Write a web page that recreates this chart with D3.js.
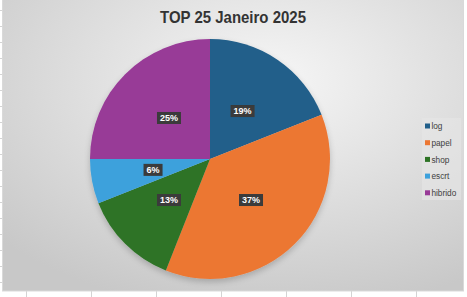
<!DOCTYPE html>
<html>
<head>
<meta charset="utf-8">
<script src="https://cdn.jsdelivr.net/npm/d3@7"></script>
<style>
  body { margin: 0; background: #fff; }
  svg { display: block; }
</style>
</head>
<body>
<div id="chart"></div>
<script>
// data
let categories = ["log", "papel", "shop", "escrt", "hibrido"];
let values = [19, 37, 13, 6, 25];
let colors = ["#215f8a", "#ec7733", "#2d7325", "#3da1dc", "#983a97"];
let title = "TOP 25 Janeiro 2025";

let svgWidth = 467;
let svgHeight = 297;

let svg = d3.select("#chart")
	.append("svg")
	.attr("width", svgWidth)
	.attr("height", svgHeight);

let defs = svg.append("defs");

let grad = defs.append("radialGradient")
	.attr("id", "bg")
	.attr("cx", "0.58").attr("cy", "0.28").attr("r", "0.8");
grad.append("stop").attr("offset", "0%").attr("stop-color", "#f6f6f6");
grad.append("stop").attr("offset", "100%").attr("stop-color", "#c8c8c8");

let shadow = defs.append("filter").attr("id", "shadow")
	.attr("x", "-20%").attr("y", "-20%").attr("width", "140%").attr("height", "140%");
shadow.append("feGaussianBlur").attr("in", "SourceAlpha").attr("stdDeviation", 3).attr("result", "b");
shadow.append("feOffset").attr("dy", 3).attr("result", "o");
shadow.append("feComponentTransfer").append("feFuncA").attr("type", "linear").attr("slope", 0.2);
let merge = shadow.append("feMerge");
merge.append("feMergeNode");
merge.append("feMergeNode").attr("in", "SourceGraphic");

let boxShadow = defs.append("filter").attr("id", "boxsh")
	.attr("x", "-30%").attr("y", "-40%").attr("width", "160%").attr("height", "180%");
boxShadow.append("feGaussianBlur").attr("stdDeviation", 0.6);

// spreadsheet grid peeking around the chart
let grid = svg.append("g").attr("stroke", "#d4d4d4").attr("stroke-width", 1);
d3.range(10, 290, 16).forEach(y => {
	grid.append("line").attr("x1", 0).attr("x2", 3).attr("y1", y + 0.5).attr("y2", y + 0.5);
});
d3.range(26, 467, 65).forEach(x => {
	grid.append("line").attr("x1", x + 0.5).attr("x2", x + 0.5).attr("y1", 291).attr("y2", 297);
});

// chart area
svg.append("rect")
	.attr("x", 2.5).attr("y", -1)
	.attr("width", 461).attr("height", 292)
	.attr("fill", "url(#bg)")
	.attr("stroke", "#d9d9d9");

svg.append("text")
	.attr("x", 233)
	.attr("y", 23)
	.attr("text-anchor", "middle")
	.attr("font-family", "'Liberation Sans', Arial, sans-serif")
	.attr("font-weight", "bold")
	.attr("font-size", "17px")
	.attr("textLength", 146)
	.attr("lengthAdjust", "spacingAndGlyphs")
	.attr("fill", "#333333")
	.text(title);

let radius = 120;
let pieGroup = svg.append("g")
	.attr("transform", "translate(210, 159)");

let pie = d3.pie().sort(null).value(d => d.v);
let arcs = pie(categories.map((c, i) => ({ c: c, v: values[i], color: colors[i] })));

let arc = d3.arc().innerRadius(0).outerRadius(radius);
let labelArc = d3.arc().innerRadius(58).outerRadius(58);

pieGroup.append("g")
	.attr("filter", "url(#shadow)")
	.selectAll("path")
	.data(arcs)
	.enter()
	.append("path")
	.attr("d", arc)
	.attr("fill", d => d.data.color);

let total = d3.sum(values);
let labels = pieGroup.selectAll(".lbl")
	.data(arcs)
	.enter()
	.append("g")
	.attr("class", "lbl")
	.attr("transform", d => `translate(${labelArc.centroid(d)})`);

labels.append("rect")
	.attr("x", d => d.data.v < 10 ? -9.5 : -12)
	.attr("y", -6)
	.attr("width", d => d.data.v < 10 ? 19 : 24)
	.attr("height", 12)
	.attr("fill", "#3a3a3a")
	.attr("filter", "url(#boxsh)");

labels.append("text")
	.attr("text-anchor", "middle")
	.attr("dy", "0.36em")
	.attr("font-family", "'Liberation Sans', Arial, sans-serif")
	.attr("font-weight", "bold")
	.attr("font-size", "9px")
	.attr("fill", "#ffffff")
	.text(d => Math.round(d.data.v / total * 100) + "%");

// legend
let legend = svg.append("g")
	.attr("transform", "translate(422, 118)");

legend.append("rect")
	.attr("x", 0).attr("y", 0)
	.attr("width", 39).attr("height", 82)
	.attr("fill", "#e6e6e6")
	.attr("opacity", 0.6);

let items = legend.selectAll(".item")
	.data(categories)
	.enter()
	.append("g")
	.attr("class", "item")
	.attr("transform", (d, i) => `translate(3, ${8 + i * 16.7})`);

items.append("rect")
	.attr("x", 0).attr("y", -2.5)
	.attr("width", 5).attr("height", 5)
	.attr("fill", (d, i) => colors[i]);

items.append("text")
	.attr("x", 7)
	.attr("dy", "0.35em")
	.attr("font-family", "'Liberation Sans', sans-serif")
	.attr("font-size", "9px")
	.attr("fill", "#404040")
	.attr("transform", "scale(0.92, 1)")
	.text(d => d);
</script>
</body>
</html>
